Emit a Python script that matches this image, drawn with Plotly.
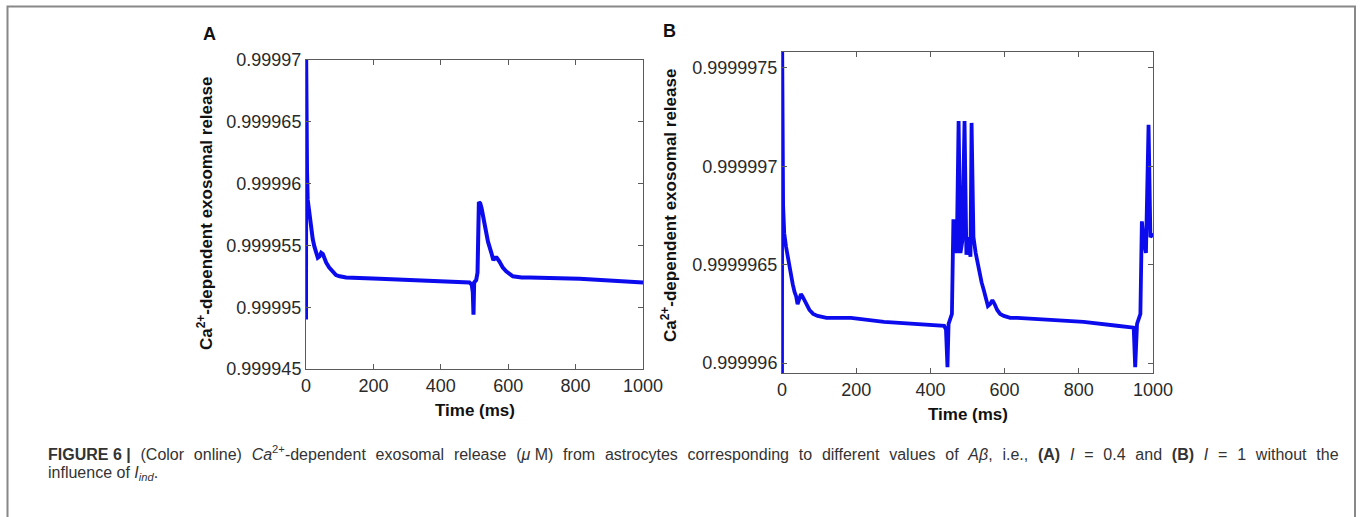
import plotly.graph_objects as go

W, H = 1360, 517

# ---------------- data ----------------
time_a = [0, 0.5, 3, 5, 8, 12, 15, 20, 25, 30, 35, 40, 45, 50, 54, 60, 69, 78, 89, 100, 119, 218, 317,
          416, 485, 492, 495, 497, 499, 505, 509, 513, 517, 521, 526, 531, 540, 550, 556, 561, 566,
          574, 584, 594, 604, 614, 640, 663, 812, 1000]
release_a = [0.999949, 0.99997, 0.999961, 0.9999587, 0.999958, 0.9999568, 0.9999563, 0.9999555,
             0.9999549, 0.9999544, 0.999954, 0.9999541, 0.9999544, 0.9999543, 0.999954, 0.9999536,
             0.9999532, 0.9999529, 0.9999526, 0.9999525, 0.9999524, 0.9999523, 0.9999522, 0.9999521,
             0.999952, 0.9999518, 0.9999512, 0.9999494, 0.999952, 0.9999522, 0.9999528, 0.9999585,
             0.9999584, 0.999958, 0.9999573, 0.9999565, 0.9999553, 0.9999544, 0.9999538, 0.999954,
             0.999954, 0.9999537, 0.9999532, 0.9999529, 0.9999527, 0.9999525, 0.9999524, 0.9999524,
             0.9999523, 0.999952]

time_b = [0, 0.5, 3, 6, 11, 16, 20, 25, 29, 34, 38, 42, 46, 51, 55, 60, 67, 74, 84, 96, 120, 186, 275,
          365, 437, 442, 446, 449, 458, 462, 466, 471, 476, 481, 486, 492, 497, 502, 508, 511, 516,
          522, 531, 538, 544, 550, 555, 561, 567, 573, 580, 588, 598, 615, 634, 724, 813, 903, 948,
          952, 957, 966, 970, 975, 981, 988, 993, 1000]
release_b = [0.9999959, 0.9999976, 0.9999968, 0.99999666, 0.99999659, 0.99999653, 0.99999649,
             0.99999644, 0.9999964, 0.99999636, 0.99999634, 0.9999963, 0.99999632, 0.99999635,
             0.99999634, 0.99999632, 0.99999629, 0.99999627, 0.99999625, 0.99999624, 0.99999623,
             0.99999623, 0.99999621, 0.9999962, 0.99999619, 0.99999617, 0.99999598, 0.9999962,
             0.99999625, 0.99999673, 0.99999662, 0.99999656, 0.99999723, 0.99999656, 0.99999662,
             0.99999723, 0.99999655, 0.99999664, 0.99999654, 0.99999722, 0.99999664, 0.99999656,
             0.99999646, 0.99999641, 0.99999637, 0.99999633, 0.99999629, 0.9999963, 0.99999632,
             0.9999963, 0.99999627, 0.99999625, 0.99999624, 0.99999623, 0.99999623, 0.99999622,
             0.99999621, 0.99999619, 0.99999618, 0.99999598, 0.9999962, 0.99999625, 0.99999672,
             0.99999662, 0.99999656, 0.99999721, 0.99999664, 0.99999666]

x_ticks = [0, 200, 400, 600, 800, 1000]
y_ticks_a = [0.999945, 0.99995, 0.999955, 0.99996, 0.999965, 0.99997]
y_ticklabels_a = ["0.999945", "0.99995", "0.999955", "0.99996", "0.999965", "0.99997"]
y_ticks_b = [0.999996, 0.9999965, 0.999997, 0.9999975]
y_ticklabels_b = ["0.999996", "0.9999965", "0.999997", "0.9999975"]

x_title = "Time (ms)"
y_title = "Ca<sup>2+</sup>-dependent exosomal release"
panel_labels = ["A", "B"]

# ---------------- figure ----------------
FONT = "Liberation Sans, Arial, Helvetica, sans-serif"
BLUE = "#0b0bee"
AX = "#5a5a5a"
TXT = "#2a2a2a"

def px_x(p):
    return p / W

def px_y(p):
    return 1 - p / H

fig = go.Figure()
fig.add_trace(go.Scatter(x=time_a, y=release_a, mode="lines", line=dict(color=BLUE, width=4),
                         xaxis="x", yaxis="y", showlegend=False, hoverinfo="skip"))
fig.add_trace(go.Scatter(x=time_b, y=release_b, mode="lines", line=dict(color=BLUE, width=3.8),
                         xaxis="x2", yaxis="y2", showlegend=False, hoverinfo="skip"))

common_axis = dict(showline=True, linecolor=AX, linewidth=1, mirror="ticks", ticks="inside",
                   ticklen=5, tickcolor=AX, tickwidth=1, showgrid=False, zeroline=False,
                   automargin=False, tickfont=dict(family=FONT, size=18, color=TXT))

A_box = (306, 643, 60, 369)
B_box = (782, 1153, 52, 373)

fig.update_layout(
    width=W, height=H, margin=dict(l=0, r=0, t=0, b=0, pad=0), autosize=False,
    paper_bgcolor="white", plot_bgcolor="white",
    xaxis=dict(domain=[px_x(A_box[0]), px_x(A_box[1])], range=[0, 1000], tickvals=x_ticks,
               anchor="y", **common_axis),
    yaxis=dict(domain=[px_y(A_box[3]), px_y(A_box[2])], range=[0.999945, 0.99997],
               tickvals=y_ticks_a, ticktext=y_ticklabels_a, anchor="x", **common_axis),
    xaxis2=dict(domain=[px_x(B_box[0]), px_x(B_box[1])], range=[0, 1000], tickvals=x_ticks,
                anchor="y2", **common_axis),
    yaxis2=dict(domain=[px_y(B_box[3]), px_y(B_box[2])], range=[0.99999595, 0.99999758],
                tickvals=y_ticks_b, ticktext=y_ticklabels_b, anchor="x2", **common_axis),
)

annotations = []
for cx, cy in [(474.5, 410), (967.5, 414)]:
    annotations.append(dict(x=px_x(cx), y=px_y(cy), xref="paper", yref="paper", text="<b>%s</b>" % x_title,
                            showarrow=False, font=dict(family=FONT, size=17, color="#111"),
                            xanchor="center", yanchor="middle"))
for cx, cy in [(205, 214), (669, 206)]:
    annotations.append(dict(x=px_x(cx), y=px_y(cy), xref="paper", yref="paper", text="<b>%s</b>" % y_title,
                            showarrow=False, textangle=-90, font=dict(family=FONT, size=17, color="#111"),
                            xanchor="center", yanchor="middle"))
for lab, (cx, cy) in zip(panel_labels, [(209, 34), (669, 31)]):
    annotations.append(dict(x=px_x(cx), y=px_y(cy), xref="paper", yref="paper", text="<b>%s</b>" % lab,
                            showarrow=False, font=dict(family=FONT, size=18, color="#111"),
                            xanchor="center", yanchor="middle"))

SP = " \u2004"  # widened (justified) word space
cap1_words = ["<b>FIGURE 6 |</b>", "(Color", "online)", "<i>Ca</i><sup>2+</sup>-dependent", "exosomal",
              "release", "(<i>μ</i> M)", "from", "astrocytes", "corresponding", "to", "different",
              "values", "of", "<i>Aβ</i>,", "i.e.,", "<b>(A)</b>", "<i>I</i>", "=", "0.4", "and",
              "<b>(B)</b>", "<i>I</i>", "=", "1", "without", "the"]
cap1 = SP.join(cap1_words)
cap2 = "influence of <i>I</i><sub><i>ind</i></sub>."
annotations.append(dict(x=px_x(46), y=px_y(453), xref="paper", yref="paper", text=cap1, showarrow=False,
                        font=dict(family=FONT, size=16, color="#333"), xanchor="left", yanchor="middle"))
annotations.append(dict(x=px_x(46), y=px_y(473), xref="paper", yref="paper", text=cap2, showarrow=False,
                        font=dict(family=FONT, size=16, color="#333"), xanchor="left", yanchor="middle"))
fig.update_layout(annotations=annotations)

fig.add_shape(type="rect", xref="paper", yref="paper", x0=px_x(7.5), x1=px_x(1355), y0=px_y(530), y1=px_y(6.5),
              line=dict(color="#888888", width=2), fillcolor="rgba(0,0,0,0)", layer="below")

fig.write_html("out.html", config={"displayModeBar": False},
               post_script="document.body.style.margin='0';")
